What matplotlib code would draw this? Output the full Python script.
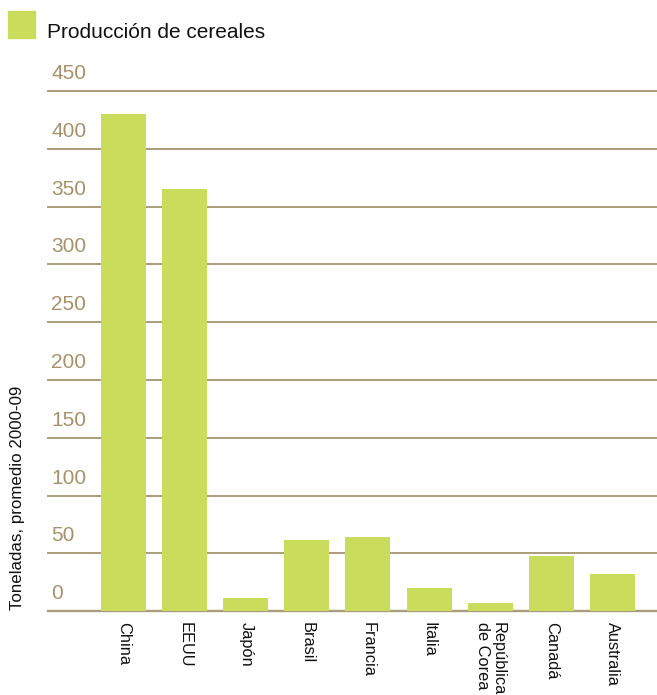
import matplotlib
matplotlib.use("Agg")
import matplotlib.pyplot as plt
from matplotlib.patches import Rectangle
from matplotlib.transforms import offset_copy

plt.rcParams["font.family"] = ["Liberation Sans", "DejaVu Sans"]

# cereal production, average 2000-09 (tonnes, millions)
countries = ["China", "EEUU", "Japón", "Brasil", "Francia", "Italia",
             "República\nde Corea", "Canadá", "Australia"]
production = [430, 365, 11.5, 62, 64.5, 20, 7, 48, 32.5]
y_ticks = [0, 50, 100, 150, 200, 250, 300, 350, 400, 450]
series_name = "Producción de cereales"
y_title = "Toneladas, promedio 2000-09"

BAR = "#c9dc5b"
GRID = "#ab9c7b"
TICK = "#a8916a"

W, H = 657, 695
fig = plt.figure(figsize=(W / 100, H / 100), dpi=100)
ax = fig.add_axes([48 / W, 1 - 611.3 / H, 1 - 48 / W, (611.3 - 91) / H])

ax.bar(range(len(countries)), production, width=0.737, color=BAR, zorder=3)
ax.set_xlim(-1.236, 8.73)
ax.set_ylim(0, 450)

for v in y_ticks:
    ax.axhline(v, color=GRID, lw=1.7 if v == 0 else 1.4, zorder=2,
               clip_on=False)

# tick labels sit above their grid lines
tr = offset_copy(ax.get_yaxis_transform(), fig=fig, x=3, y=12, units="dots")
for v in y_ticks:
    ax.text(0, v, str(v), transform=tr, ha="left", va="baseline",
            fontsize=15, color=TICK)

ax.set_yticks([])
ax.set_xticks(range(len(countries)))
ax.set_xticklabels(countries, rotation=270, fontsize=11.8, color="#111111",
                   multialignment="left", linespacing=1.05)
ax.tick_params(axis="x", length=0, pad=8)
for s in ax.spines.values():
    s.set_visible(False)

fig.text(18 / W, 1 - 610 / H, y_title, rotation=90, ha="center", va="bottom",
         fontsize=12.2, color="#111111")

# legend: square swatch + label
fig.patches.append(Rectangle((8 / W, 1 - 38 / H), 27 / W, 27 / H,
                             transform=fig.transFigure, color=BAR))
fig.text(47 / W, 1 - 38 / H, series_name, ha="left", va="baseline",
         fontsize=15, color="#111111")

fig.savefig("out.png", dpi=100)
